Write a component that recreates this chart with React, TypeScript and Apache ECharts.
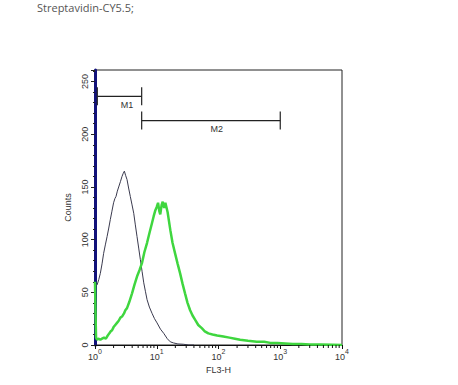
import React, { useEffect, useRef } from 'react';
import * as echarts from 'echarts';

const titleText = 'Streptavidin-CY5.5;';
const xAxisName = 'FL3-H';
const yAxisName = 'Counts';
const yMin = 0;
const yMax = 261;
const yInterval = 50;
const xMin = 1;
const xMax = 10000;

const xMinorTicks = [
  2, 3, 4, 5, 6, 7, 8, 9,
  20, 30, 40, 50, 60, 70, 80, 90,
  200, 300, 400, 500, 600, 700, 800, 900,
  2000, 3000, 4000, 5000, 6000, 7000, 8000, 9000,
];

// control (dark line): [FL3-H, counts]
const controlHistogram: [number, number][] = [
  [1.0, 57], [1.08, 57], [1.15, 62], [1.22, 68], [1.3, 77], [1.38, 87], [1.47, 95],
  [1.57, 103], [1.67, 111], [1.77, 119], [1.88, 127], [2.0, 135], [2.1, 139],
  [2.19, 141], [2.3, 146], [2.42, 150], [2.58, 155], [2.74, 160], [2.87, 163],
  [2.99, 165], [3.13, 161], [3.3, 157], [3.5, 149], [3.73, 141], [3.98, 133],
  [4.24, 125], [4.5, 114], [4.79, 103], [5.1, 92], [5.43, 81], [5.78, 70],
  [6.16, 59], [6.55, 51], [6.97, 43], [7.6, 36], [8.4, 30], [9.2, 25], [10.1, 21],
  [11.5, 15], [13, 11], [14.8, 6], [16.6, 3], [18.6, 2], [22, 1], [27, 0.7],
  [33, 0], [40, 0],
];

// stained sample (green line): [FL3-H, counts]
const sampleHistogram: [number, number][] = [
  [1.0, 60], [1.02, 30], [1.04, 7], [1.08, 5], [1.15, 6], [1.22, 5], [1.3, 6],
  [1.4, 7], [1.5, 6], [1.57, 8], [1.7, 11], [1.8, 13], [1.89, 14], [2.0, 17],
  [2.13, 19], [2.27, 21], [2.42, 23], [2.58, 26], [2.74, 27], [2.95, 30], [3.1, 33],
  [3.3, 35], [3.6, 41], [3.98, 49], [4.35, 57], [4.79, 65], [5.25, 71], [5.78, 78],
  [6.3, 88], [6.97, 97], [7.6, 106], [8.4, 116], [8.9, 122], [9.5, 128], [10.0, 131],
  [10.5, 135], [11.0, 127], [11.4, 124], [12.0, 133], [12.5, 136], [13.2, 130],
  [13.8, 135], [15.0, 126], [16.6, 109], [18.0, 97], [19.8, 87], [21.8, 77],
  [23.9, 68], [26.2, 58], [28.7, 49], [31.5, 40], [34.7, 33], [38, 28], [41.7, 24],
  [47, 19], [53.6, 16], [60, 13], [68.5, 11], [80, 10], [95, 9], [120, 8], [150, 7],
  [185, 6], [224, 5], [300, 4], [417, 3], [550, 3], [690, 2], [900, 2], [1200, 1.5],
  [1600, 1], [2200, 1], [3000, 0.5], [4500, 0.5], [7000, 0.3], [10000, 0],
];

const gateNames = ['M1', 'M2'];
const gateStart = [1.09, 5.7];
const gateEnd = [5.7, 1000];
const gateCounts = [236, 213];
const gateLabelAt = [3.3, 94];

export default function App() {
  const ref = useRef<HTMLDivElement>(null);

  useEffect(() => {
    if (!ref.current) return;
    const chart = echarts.init(ref.current, undefined, { renderer: 'svg' });
    const font = 'Liberation Sans';

    const gateData = gateNames.map((_, i) => [gateStart[i], gateEnd[i], gateCounts[i], gateLabelAt[i]]);

    chart.setOption({
      animation: false,
      backgroundColor: '#ffffff',
      graphic: [
        {
          type: 'text',
          left: 37,
          top: 2,
          style: { text: titleText, fontSize: 11, fontFamily: 'Open Sans', fill: '#555555' },
        },
      ],
      grid: {
        left: 95,
        right: 116,
        top: 70,
        bottom: 40,
        show: true,
        borderColor: '#222222',
        borderWidth: 1,
        backgroundColor: 'transparent',
      },
      xAxis: {
        type: 'log',
        logBase: 10,
        min: xMin,
        max: xMax,
        name: xAxisName,
        nameLocation: 'middle',
        nameGap: 17,
        nameTextStyle: { fontSize: 9, fontFamily: font, color: '#333333' },
        axisLine: { show: true, lineStyle: { color: '#111111', width: 1.2 } },
        axisTick: { show: true, length: 4, inside: false, lineStyle: { color: '#111111' } },
        splitLine: { show: false },
        axisLabel: {
          margin: 3,
          color: '#333333',
          formatter: (v: number) => `{b|10}{s|${Math.round(Math.log10(v))}}`,
          rich: {
            b: { fontSize: 9, fontFamily: font, color: '#333333', lineHeight: 13, verticalAlign: 'bottom' },
            s: { fontSize: 7, fontFamily: font, color: '#333333', verticalAlign: 'top' },
          },
        },
      },
      yAxis: {
        type: 'value',
        min: yMin,
        max: yMax,
        interval: yInterval,
        name: yAxisName,
        nameLocation: 'middle',
        nameRotate: 90,
        nameGap: 20,
        nameTextStyle: { fontSize: 9, fontFamily: font, color: '#333333' },
        axisLine: { show: true, lineStyle: { color: '#12127a', width: 3 } },
        axisTick: { show: true, length: 4, lineStyle: { color: '#222222' } },
        minorTick: { show: true, splitNumber: 5, length: 2, lineStyle: { color: '#222222' } },
        splitLine: { show: false },
        axisLabel: {
          rotate: 90,
          margin: 6,
          fontSize: 9,
          fontFamily: font,
          color: '#333333',
          formatter: (v: number) => (v % yInterval === 0 ? String(v) : ''),
        },
      },
      series: [
        {
          type: 'line',
          name: 'control',
          data: controlHistogram,
          showSymbol: false,
          symbol: 'none',
          lineStyle: { color: '#3a3a4e', width: 1 },
          z: 3,
        },
        {
          type: 'line',
          name: 'sample',
          data: sampleHistogram,
          showSymbol: false,
          symbol: 'none',
          lineStyle: { color: '#3fd63f', width: 2.5 },
          z: 4,
        },
        {
          type: 'custom',
          name: 'minorTicks',
          silent: true,
          clip: false,
          data: xMinorTicks.map((v) => [v, 0]),
          encode: { x: 0, y: 1 },
          renderItem: (params: any, api: any) => {
            const p = api.coord([api.value(0), 0]);
            return {
              type: 'line',
              shape: { x1: p[0], y1: p[1], x2: p[0], y2: p[1] + 3 },
              style: { stroke: '#111111', lineWidth: 1 },
            };
          },
          z: 5,
        },
        {
          type: 'custom',
          name: 'gates',
          silent: true,
          clip: false,
          data: gateData,
          encode: { x: [0, 1, 3], y: 2 },
          renderItem: (params: any, api: any) => {
            const a = api.coord([api.value(0), api.value(2)]);
            const b = api.coord([api.value(1), api.value(2)]);
            const l = api.coord([api.value(3), api.value(2)]);
            const cap = 9;
            const stroke = { stroke: '#222222', lineWidth: 1.2 };
            return {
              type: 'group',
              children: [
                { type: 'line', shape: { x1: a[0], y1: a[1], x2: b[0], y2: b[1] }, style: stroke },
                { type: 'line', shape: { x1: a[0], y1: a[1] - cap, x2: a[0], y2: a[1] + cap }, style: stroke },
                { type: 'line', shape: { x1: b[0], y1: b[1] - cap, x2: b[0], y2: b[1] + cap }, style: stroke },
                {
                  type: 'text',
                  x: l[0],
                  y: l[1] + 4,
                  style: {
                    text: gateNames[params.dataIndex],
                    fontSize: 9,
                    fontFamily: font,
                    fill: '#333333',
                    align: 'center',
                    verticalAlign: 'top',
                  },
                },
              ],
            };
          },
          z: 6,
        },
      ],
    });

    return () => chart.dispose();
  }, []);

  return (
    <div
      ref={ref}
      style={{ position: 'absolute', left: 0, top: 0, width: 458, height: 385 }}
    />
  );
}
